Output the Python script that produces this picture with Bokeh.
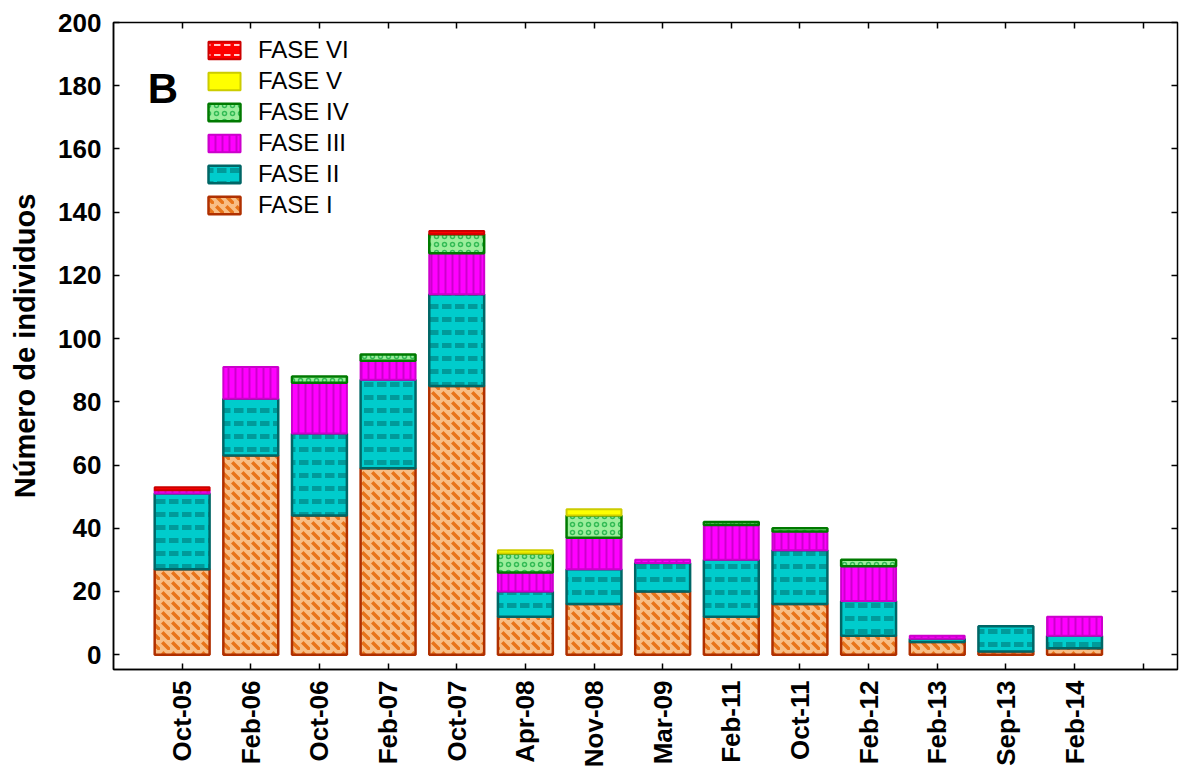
import numpy as np
from bokeh.plotting import figure
from bokeh.models import (ColumnDataSource, Range1d, FixedTicker, LinearAxis,
                          Legend, LegendItem, Label)
from bokeh.embed import file_html
from bokeh.resources import INLINE

# ---- data ----
fechas = ["Oct-05", "Feb-06", "Oct-06", "Feb-07", "Oct-07", "Apr-08", "Nov-08",
          "Mar-09", "Feb-11", "Oct-11", "Feb-12", "Feb-13", "Sep-13", "Feb-14"]
fase_I   = [27, 63, 44, 59, 85, 12, 16, 20, 12, 16, 6, 4, 1, 2]
fase_II  = [24, 18, 26, 28, 29,  8, 11,  9, 18, 17, 11, 1, 8, 4]
fase_III = [ 1, 10, 16,  6, 13,  6, 10,  1, 11,  6, 11, 1, 0, 6]
fase_IV  = [ 0,  0,  2,  2,  6,  6,  7,  0,  1,  1,  2, 0, 0, 0]
fase_V   = [ 0,  0,  0,  0,  0,  1,  2,  0,  0,  0,  0, 0, 0, 0]
fase_VI  = [ 1,  0,  0,  0,  1,  0,  0,  0,  0,  0,  0, 0, 0, 0]
series_names = ["FASE I", "FASE II", "FASE III", "FASE IV", "FASE V", "FASE VI"]
y_ticks = [0, 20, 40, 60, 80, 100, 120, 140, 160, 180, 200]

FONT = "Liberation Sans"

styles = [
    dict(fill_color="#F8BE86", hatch_color="#E8741A", hatch_pattern="`",
         hatch_scale=10, hatch_weight=3.5, line_color="#B03000", line_width=2.5),
    dict(fill_color="#00CCCC", hatch_color="#009A9A", hatch_pattern='"',
         hatch_scale=13, hatch_weight=5, line_color="#006666", line_width=2.5),
    dict(fill_color="#FF00FF", hatch_color="#CC00CC", hatch_pattern="|",
         hatch_scale=7, hatch_weight=2, line_color="#CC00CC", line_width=2),
    dict(fill_color="#9CEE9C", hatch_color="#33BB55", hatch_pattern="o",
         hatch_scale=8, hatch_weight=1.5, line_color="#007A00", line_width=2.5),
    dict(fill_color="#FFFF00", line_color="#CCCC00", line_width=2),
    dict(fill_color="#FF0000", hatch_color="#FFC8C8", hatch_pattern='"',
         hatch_scale=10, hatch_weight=2, line_color="#CC0000", line_width=2),
]

n = len(fechas)
xs = np.arange(n, dtype=float)

p = figure(width=1179, height=770, output_backend="svg", toolbar_location=None,
           x_range=Range1d(-1.0, 14.5), y_range=Range1d(-4.7, 200),
           min_border_left=113, min_border_right=2, min_border_top=22,
           min_border_bottom=101)
p.grid.visible = False
p.outline_line_color = "black"
p.outline_line_width = 1.5
p.background_fill_color = "white"
p.border_fill_color = "white"

bottom = np.zeros(n)
renderers = []
for vals, st in zip([fase_I, fase_II, fase_III, fase_IV, fase_V, fase_VI], styles):
    v = np.array(vals, dtype=float)
    top = bottom + v
    m = v > 0
    src = ColumnDataSource(dict(x=xs[m], bottom=bottom[m], top=top[m]))
    r = p.vbar(x="x", bottom="bottom", top="top", width=0.8, source=src, **st)
    renderers.append(r)
    bottom = top

x_ticks = list(range(n + 1))

# axes styling
xa = p.xaxis[0]
xa.ticker = FixedTicker(ticks=x_ticks)
xa.major_label_overrides = {i: f for i, f in enumerate(fechas)} | {n: ""}
xa.major_label_orientation = np.pi / 2
xa.major_label_text_font = FONT
xa.major_label_text_font_style = "bold"
xa.major_label_text_font_size = "26px"
xa.major_label_text_color = "black"
xa.major_label_standoff = 11
xa.major_tick_in = 6
xa.major_tick_out = 0
xa.minor_tick_line_color = None
xa.axis_line_width = 1.5
xa.major_tick_line_width = 1.5

ya = p.yaxis[0]
ya.ticker = FixedTicker(ticks=y_ticks)
ya.major_label_text_font = FONT
ya.major_label_text_font_style = "bold"
ya.major_label_text_font_size = "26px"
ya.major_label_text_color = "black"
ya.major_label_standoff = 12
ya.major_tick_in = 6
ya.major_tick_out = 0
ya.minor_tick_line_color = None
ya.axis_line_width = 1.5
ya.major_tick_line_width = 1.5
ya.axis_label = "Número de individuos"
ya.axis_label_text_font = FONT
ya.axis_label_text_font_style = "bold"
ya.axis_label_text_font_size = "29px"
ya.axis_label_text_color = "black"
ya.axis_label_standoff = 14

top_axis = LinearAxis(ticker=FixedTicker(ticks=x_ticks),
                      major_label_overrides={t: "" for t in x_ticks},
                      major_tick_in=6, major_tick_out=0,
                      minor_tick_line_color=None, axis_line_color=None,
                      major_label_standoff=0, major_tick_line_width=1.5)
p.add_layout(top_axis, "above")
right_axis = LinearAxis(ticker=FixedTicker(ticks=y_ticks),
                        major_label_overrides={t: "" for t in y_ticks},
                        major_tick_in=6, major_tick_out=0,
                        minor_tick_line_color=None, axis_line_color=None,
                        major_label_standoff=0, major_tick_line_width=1.5)
p.add_layout(right_axis, "right")

items = [LegendItem(label=nm, renderers=[r])
         for nm, r in zip(series_names[::-1], renderers[::-1])]
legend = Legend(items=items, location=(91, 450), padding=0, margin=0,
                glyph_width=40, glyph_height=22, label_height=28, spacing=3,
                label_standoff=14, label_text_font=FONT,
                label_text_font_size="24px", label_text_color="black",
                border_line_color=None, background_fill_alpha=0)
p.add_layout(legend, "center")

p.add_layout(Label(x=-0.5, y=179, text="B", text_font=FONT,
                   text_font_style="bold", text_font_size="42px",
                   text_color="black", text_baseline="alphabetic"))

open("out.html", "w").write(file_html(p, INLINE))
